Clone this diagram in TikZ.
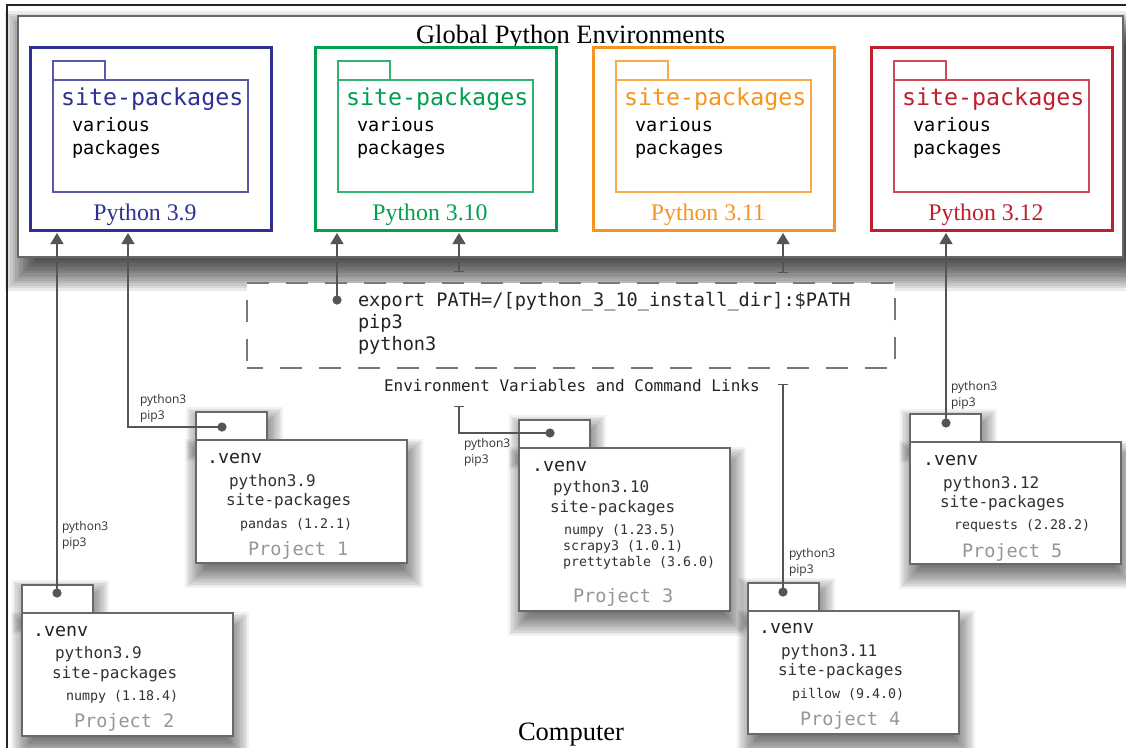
\documentclass[tikz,border=0pt]{standalone}
\usepackage{fontspec}
\setmainfont{Liberation Serif}
\newfontfamily\monof{DejaVu Sans Mono}
\newfontfamily\lblf{Open Sans}
\usetikzlibrary{arrows.meta,calc}
\definecolor{pyblue}{RGB}{46,49,146}
\definecolor{pygreen}{RGB}{0,160,80}
\definecolor{pyorange}{RGB}{247,148,29}
\definecolor{pyred}{RGB}{192,30,45}
\definecolor{cgray}{RGB}{85,85,85}
\definecolor{boxgray}{RGB}{105,105,105}
\definecolor{txtdark}{RGB}{35,35,35}
\definecolor{txtmid}{RGB}{50,50,50}
\definecolor{txtlight}{RGB}{150,150,150}
\definecolor{dashgray}{RGB}{120,120,120}
\newcommand\mysh[6]{%
  \foreach \k in {0,...,15}{%
    \pgfmathsetmacro\dd{#5*(0.5-\k/15)}%
    \fill[black,opacity=#6] ({#1-\dd},{#2-\dd}) rectangle ({#3+\dd},{#4+\dd});
  }}
\newcommand\fs[1]{\fontsize{#1}{#1}\selectfont}
\tikzset{
  txt/.style={inner sep=0pt, outer sep=0pt, anchor=base west},
  pyframe/.style={draw=#1, line width=3pt, fill=white, minimum width=241pt, minimum height=183pt, inner sep=0pt, outer sep=0pt, anchor=north west},
  folderline/.style={draw=#1!80, line width=1.2pt, fill=white},
  venvline/.style={draw=boxgray, line width=1.4pt, fill=white},
  conn/.style={draw=cgray, line width=1.3pt},
  up/.style={conn, shorten >=3pt, -{Triangle[width=13pt,length=11pt]}},
  tup/.style={conn, shorten >=3pt, {Bar[width=10pt]}-{Triangle[width=13pt,length=11pt]}},
  tt/.style={conn, {Bar[width=10pt]}-},
  dotf/.style={fill=cgray},
  lbl/.style={txt, font=\lblf\fs{12}, text=txtmid, align=left},
}
\newcommand\pybox[4]{%
  \node[pyframe=#3] (#1) at (#2,47) {};
  \draw[folderline=#3] (#2+23,61) rectangle (#2+75,80);
  \draw[folderline=#3] (#2+23,80) rectangle (#2+218,192);
  \node[txt, text=#3, font=\monof\fs{23.3}] (#1sp) at (#2+31,105) {site-packages};
  \node[txt, font=\monof\fs{18.5}] (#1va) at (#2+42,131) {various};
  \node[txt, font=\monof\fs{18.5}] (#1pk) at (#2+42,154) {packages};
  \node[inner sep=0pt, anchor=base, text=#3, font=\fs{23.8}] (#1lb) at (#2+115,220) {#4};
}
% name, x, y(tab top), body height
\newcommand\venvbox[4]{%
  \mysh{#2+3}{#3+8}{#2+71+3}{#3+28+8}{26}{0.05}
  \mysh{#2+2}{#3+28+12}{#2+211+3}{#3+28+#4+12}{26}{0.05}
  \draw[venvline] (#2,#3) rectangle (#2+71,#3+28);
  \node[venvline, minimum width=211pt, minimum height=#4pt, inner sep=0pt, outer sep=0pt, anchor=north west] (#1) at (#2,#3+28) {};
}
\begin{document}
\begin{tikzpicture}[x=1pt,y=-1pt]
\useasboundingbox (0,0) rectangle (1126,747);
\fill[white] (0,0) rectangle (1126,747);
% outer frame
\draw[line width=2pt, black!85] (7,752) -- (7,5) -- (1130,5);
% global environment box
\mysh{24}{30}{1140}{272}{38}{0.08}
\node[draw=boxgray, line width=1.6pt, fill=white, minimum width=1105pt, minimum height=241pt, inner sep=0pt, outer sep=0pt, anchor=north west] (global) at (18,16) {};
\node[txt, font=\fs{26.5}] (title) at (416,43) {Global Python Environments};
\pybox{py39}{30}{pyblue}{Python 3.9}
\pybox{py310}{315}{pygreen}{Python 3.10}
\pybox{py311}{593}{pyorange}{Python 3.11}
\pybox{py312}{871}{pyred}{Python 3.12}
% environment variables box
\node[draw=dashgray, line width=1.4pt, dash pattern=on 22pt off 17pt, dash phase=6pt, fill=white, minimum width=648pt, minimum height=85pt, inner sep=0pt, outer sep=0pt, anchor=north west] (env) at (247,283) {};
\node[txt, font=\monof\fs{18.6}, text=txtdark] (exp) at (358,306) {export PATH=/[python\_3\_10\_install\_dir]:\$PATH};
\node[txt, font=\monof\fs{18.6}, text=txtdark] (pip) at (358,328) {pip3};
\node[txt, font=\monof\fs{18.6}, text=txtdark] (pyt) at (358,350) {python3};
\node[txt, font=\monof\fs{16}, text=txtdark] (envlbl) at (384,391) {Environment Variables and Command Links};
% projects
\venvbox{pA}{196}{412}{123}
\venvbox{pB}{22}{585}{123}
\venvbox{pC}{519}{420}{163}
\venvbox{pD}{748}{583}{123}
\venvbox{pE}{910}{414}{122}
% project 1
\node[txt, font=\monof\fs{18.3}, text=txtdark] (pAv) at (207,463) {.venv};
\node[txt, font=\monof\fs{16}, text=txtmid] (pAp) at (229,486) {python3.9};
\node[txt, font=\monof\fs{16}, text=txtmid] (pAs) at (226,505) {site-packages};
\node[txt, font=\monof\fs{13.3}, text=txtmid] (pAk) at (240,528) {pandas (1.2.1)};
\node[txt, font=\monof\fs{18.5}, text=txtlight] (pAn) at (248,555) {Project 1};
% project 2
\node[txt, font=\monof\fs{18.3}, text=txtdark] (pBv) at (33,636) {.venv};
\node[txt, font=\monof\fs{16}, text=txtmid] (pBp) at (55,658) {python3.9};
\node[txt, font=\monof\fs{16}, text=txtmid] (pBs) at (52,678) {site-packages};
\node[txt, font=\monof\fs{13.3}, text=txtmid] (pBk) at (66,700) {numpy (1.18.4)};
\node[txt, font=\monof\fs{18.5}, text=txtlight] (pBn) at (74,727) {Project 2};
% project 3
\node[txt, font=\monof\fs{18.3}, text=txtdark] (pCv) at (532,471) {.venv};
\node[txt, font=\monof\fs{16}, text=txtmid] (pCp) at (553,492) {python3.10};
\node[txt, font=\monof\fs{16}, text=txtmid] (pCs) at (550,512) {site-packages};
\node[txt, font=\monof\fs{13.3}, text=txtmid] (pCk1) at (564,534) {numpy (1.23.5)};
\node[txt, font=\monof\fs{13.3}, text=txtmid] (pCk2) at (563,550) {scrapy3 (1.0.1)};
\node[txt, font=\monof\fs{13.3}, text=txtmid] (pCk3) at (563,566) {prettytable (3.6.0)};
\node[txt, font=\monof\fs{18.5}, text=txtlight] (pCn) at (573,602) {Project 3};
% project 4
\node[txt, font=\monof\fs{18.3}, text=txtdark] (pDv) at (759,633) {.venv};
\node[txt, font=\monof\fs{16}, text=txtmid] (pDp) at (781,656) {python3.11};
\node[txt, font=\monof\fs{16}, text=txtmid] (pDs) at (778,675) {site-packages};
\node[txt, font=\monof\fs{13.3}, text=txtmid] (pDk) at (792,698) {pillow (9.4.0)};
\node[txt, font=\monof\fs{18.5}, text=txtlight] (pDn) at (800,725) {Project 4};
% project 5
\node[txt, font=\monof\fs{18.3}, text=txtdark] (pEv) at (923,465) {.venv};
\node[txt, font=\monof\fs{16}, text=txtmid] (pEp) at (943,488) {python3.12};
\node[txt, font=\monof\fs{16}, text=txtmid] (pEs) at (940,507) {site-packages};
\node[txt, font=\monof\fs{13.3}, text=txtmid] (pEk) at (954,529) {requests (2.28.2)};
\node[txt, font=\monof\fs{18.5}, text=txtlight] (pEn) at (962,557) {Project 5};
% link labels
\node[lbl] (lA1) at (140,403) {python3}; \node[lbl] (lA2) at (140,419) {pip3};
\node[lbl] (lB1) at (62,530) {python3};  \node[lbl] (lB2) at (62,546) {pip3};
\node[lbl] (lC1) at (464,447) {python3}; \node[lbl] (lC2) at (464,463) {pip3};
\node[lbl] (lD1) at (789,557) {python3}; \node[lbl] (lD2) at (789,573) {pip3};
\node[lbl] (lE1) at (951,390) {python3}; \node[lbl] (lE2) at (951,406) {pip3};
% connector points
\coordinate (dA) at (222,427);
\coordinate (dB) at (57,593);
\coordinate (dC) at (550,433);
\coordinate (dD) at (783,592);
\coordinate (dE) at (946,423);
\coordinate (dEnv) at (337,300);
\coordinate (turnA) at (128,427);
\coordinate (e1) at (459,272);
\coordinate (e2) at (783,273);
\coordinate (e3) at (459,406);
\coordinate (e4) at (783,384);
% connectors
\draw[up] (dB) -- (dB |- py39.south);
\draw[up] (dA) -- (turnA) -- (turnA |- py39.south);
\draw[up] (dEnv) -- (dEnv |- py310.south);
\draw[tup] (e1) -- (e1 |- py310.south);
\draw[tup] (e2) -- (e2 |- py311.south);
\draw[up] (dE) -- (dE |- py312.south);
\draw[tt] (e3) |- (dC);
\draw[tt] (e4) -- (dD);
\foreach \p in {dA,dB,dC,dD,dE,dEnv} \fill[dotf] (\p) circle (4.6);
% computer label
\node[txt, font=\fs{26.5}] (computer) at (518,740) {Computer};
\end{tikzpicture}
\end{document}
